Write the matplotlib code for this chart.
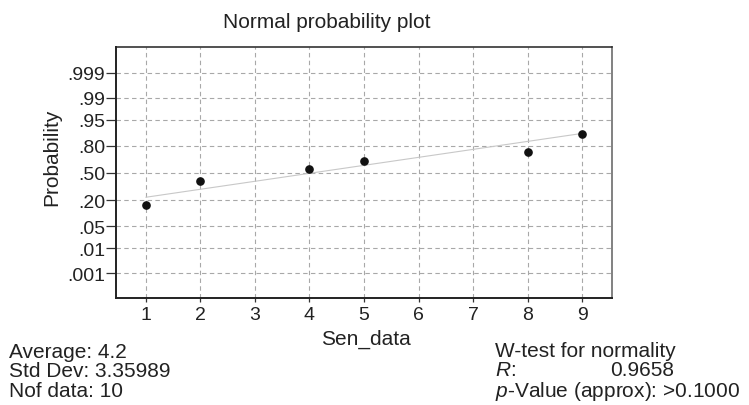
import numpy as np
import matplotlib
matplotlib.use("Agg")
import matplotlib.pyplot as plt
from statistics import NormalDist

plt.rcParams['font.family'] = ['Liberation Sans', 'DejaVu Sans']
plt.rcParams['mathtext.fontset'] = 'custom'
plt.rcParams['mathtext.rm'] = 'Liberation Sans'
plt.rcParams['mathtext.it'] = 'Liberation Sans:italic'

# data (Sen_data, 10 values with ties)
sen_values = [1, 2, 4, 5, 8, 9]
sen_prob = [0.161, 0.397, 0.548, 0.644, 0.739, 0.885]

# fitted reference line (ends)
fit_x = [1, 9]
fit_prob = [0.227, 0.889]

prob_ticks = [0.001, 0.01, 0.05, 0.20, 0.50, 0.80, 0.95, 0.99, 0.999]
prob_labels = ['.001', '.01', '.05', '.20', '.50', '.80', '.95', '.99', '.999']
x_ticks = [1, 2, 3, 4, 5, 6, 7, 8, 9]

stats_left = ['Average: 4.2', 'Std Dev: 3.35989', 'Nof data: 10']
r_value = '0.9658'
p_value = '>0.1000'

_nd = NormalDist()
_ppf = np.vectorize(_nd.inv_cdf, otypes=[float])
_cdf = np.vectorize(_nd.cdf, otypes=[float])


def probit(p):
    p = np.clip(np.asarray(p, dtype=float), 1e-12, 1 - 1e-12)
    return _ppf(p)


def inv_probit(z):
    return _cdf(np.asarray(z, dtype=float))


W, H = 749, 406
fig = plt.figure(figsize=(W / 100, H / 100), dpi=100)
ax = fig.add_axes([116 / W, 1 - 299 / H, (612 - 116) / W, (299 - 48) / H])
ax.set_yscale('function', functions=(probit, inv_probit))

ax.plot(fit_x, fit_prob, color='#c8c8c8', linewidth=0.8, zorder=2)
ax.plot(sen_values, sen_prob, 'o', color='#111111', markersize=5.2, zorder=3)

ax.set_xlim(0.45, 9.55)
ax.set_ylim(float(inv_probit(-3.86)), float(inv_probit(3.89)))
ax.set_xticks(x_ticks)
ax.set_xticklabels([str(t) for t in x_ticks])
ax.set_yticks(prob_ticks)
ax.set_yticklabels(prob_labels)
ax.yaxis.set_minor_locator(matplotlib.ticker.NullLocator())

ax.tick_params(axis='y', length=7, width=0.9, pad=1, labelsize=14,
               color='#333333', labelcolor='#222222')
ax.tick_params(axis='x', length=3, width=0.9, pad=3, labelsize=14,
               color='#333333', labelcolor='#222222')

ax.grid(True, color='#a8a8a8', linewidth=0.8, linestyle=(0, (4, 3)))
ax.set_axisbelow(True)

for side in ['left', 'bottom', 'top']:
    ax.spines[side].set_color('#222222')
    ax.spines[side].set_linewidth(1.1)
ax.spines['right'].set_color('#777777')
ax.spines['right'].set_linewidth(1.3)
ax.spines['left'].set_linewidth(1.4)
ax.spines['bottom'].set_linewidth(1.4)

# labels
fig.text(327 / W, 1 - 23 / H, 'Normal probability plot', ha='center', va='center',
         fontsize=15, color='#222222')
fig.text(52 / W, 1 - 157 / H, 'Probability', ha='center', va='center',
         rotation=90, fontsize=15, color='#222222')
fig.text(366 / W, 1 - 339 / H, 'Sen_data', ha='center', va='center',
         fontsize=15, color='#222222')

# summary stats
for i, line in enumerate(stats_left):
    fig.text(9 / W, 1 - (358 + 19.5 * i) / H, line, ha='left', va='baseline',
             fontsize=15, color='#222222')

fig.text(495 / W, 1 - 357 / H, 'W-test for normality', ha='left', va='baseline',
         fontsize=15, color='#222222')
fig.text(495 / W, 1 - 376 / H, r'$\mathit{R}$:', ha='left', va='baseline',
         fontsize=15, color='#222222')
fig.text(610 / W, 1 - 376 / H, r_value, ha='left', va='baseline',
         fontsize=15, color='#222222')
fig.text(495 / W, 1 - 397.5 / H, r'$\mathit{p}$-Value (approx): ' + p_value,
         ha='left', va='baseline', fontsize=15, color='#222222')

fig.savefig('out.png', dpi=100)
